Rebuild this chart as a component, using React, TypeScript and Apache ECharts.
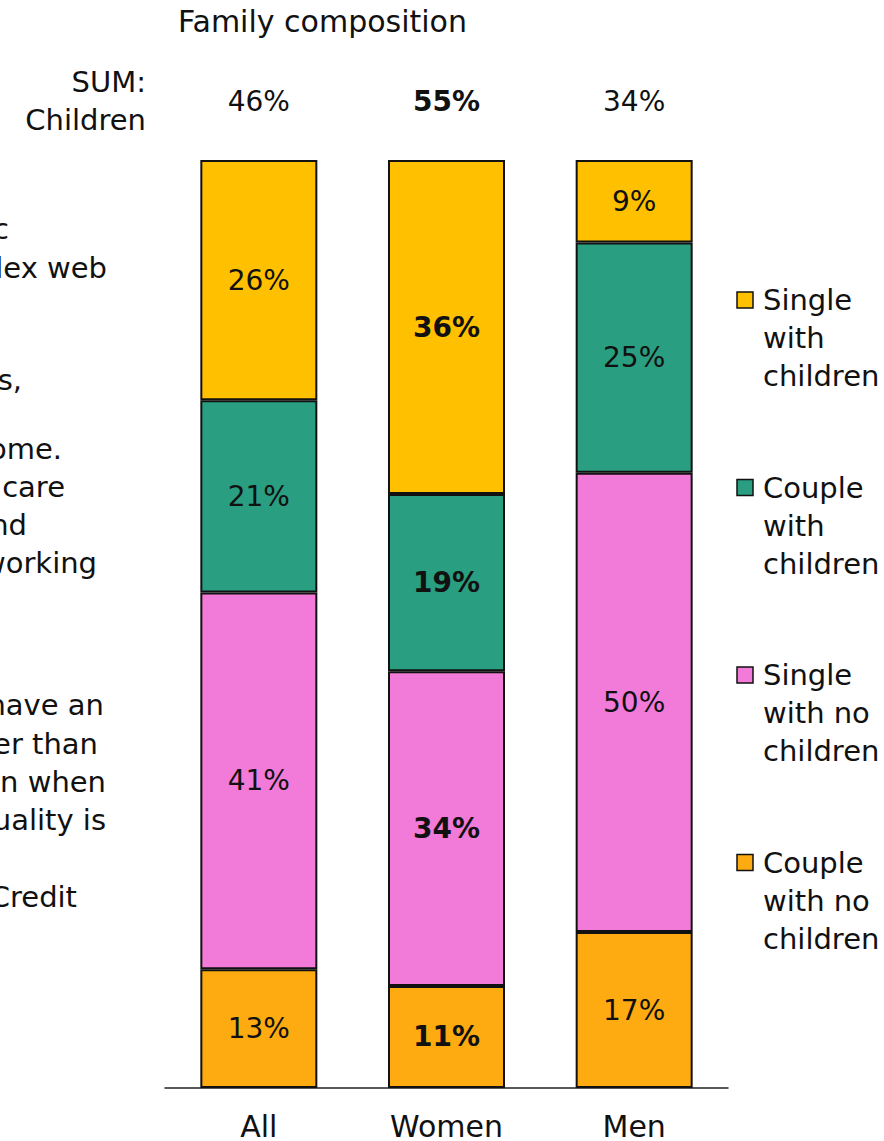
import React, { useEffect, useRef } from "react";
import * as echarts from "echarts";

const categories = ["All", "Women", "Men"];
const sumChildren = [46, 55, 34];
const coupleNoChildren = [12.8, 11.0, 16.8];
const singleNoChildren = [40.6, 33.9, 49.5];
const coupleWithChildren = [20.7, 19.1, 24.8];
const singleWithChildren = [25.9, 36.0, 8.9];
const boldCategory = "Women";

const seriesNames = [
  "Couple with no children",
  "Single with no children",
  "Couple with children",
  "Single with children",
];
const seriesColors = ["#FDAB10", "#F27AD9", "#2A9E80", "#FFC000"];
const legendLines = [
  ["Single", "with", "children"],
  ["Couple", "with", "children"],
  ["Single", "with no", "children"],
  ["Couple", "with no", "children"],
];
const legendColors = ["#FFC000", "#2A9E80", "#F27AD9", "#FDAB10"];

const clippedLines = [
  { t: "c", x: 9, y: 229 },
  { t: "lex web", x: 107, y: 268 },
  { t: "s,", x: 22, y: 380 },
  { t: "ome.", x: 62, y: 449 },
  { t: "care", x: 65, y: 487 },
  { t: "nd", x: 27, y: 525 },
  { t: "working", x: 97, y: 563 },
  { t: "have an", x: 104, y: 705 },
  { t: "er than", x: 98, y: 744 },
  { t: "n when", x: 106, y: 782 },
  { t: "uality is", x: 106, y: 820 },
  { t: "Credit", x: 77, y: 897 },
];

const FONT = "'DejaVu Sans', 'Noto Sans', sans-serif";
const FS = 29;
const FN = 28;

export default function App() {
  const ref = useRef<HTMLDivElement>(null);
  useEffect(() => {
    document.body.style.margin = "0";
    if (!ref.current) return;
    const chart = echarts.init(ref.current, undefined, { renderer: "svg" });
    const allData = [coupleNoChildren, singleNoChildren, coupleWithChildren, singleWithChildren];

    const gridLeft = 165;
    const gridRight = 728;
    const band = (gridRight - gridLeft) / categories.length;

    const graphic: any[] = [];
    graphic.push({
      type: "text",
      x: 178,
      y: 21,
      style: { text: "Family composition", font: `30px ${FONT}`, fill: "#111", verticalAlign: "middle" },
    });
    graphic.push({
      type: "text",
      x: 146,
      y: 101,
      style: {
        text: "SUM:\nChildren",
        font: `${FS}px ${FONT}`,
        fill: "#111",
        align: "right",
        verticalAlign: "middle",
        lineHeight: 38,
      },
    });
    categories.forEach((c, i) => {
      graphic.push({
        type: "text",
        x: gridLeft + band * (i + 0.5),
        y: 101,
        style: {
          text: sumChildren[i] + "%",
          font: `${c === boldCategory ? "bold " : ""}${FN}px ${FONT}`,
          fill: "#111",
          align: "center",
          verticalAlign: "middle",
        },
      });
    });
    clippedLines.forEach((l) => {
      graphic.push({
        type: "text",
        x: l.x,
        y: l.y,
        style: { text: l.t, font: `${FS}px ${FONT}`, fill: "#111", align: "right", verticalAlign: "middle" },
      });
    });
    legendLines.forEach((lines, i) => {
      const y0 = 300 + i * 187.5;
      graphic.push({
        type: "rect",
        shape: { x: 737, y: y0 - 8, width: 16, height: 16 },
        style: { fill: legendColors[i], stroke: "#111", lineWidth: 1.5 },
      });
      graphic.push({
        type: "text",
        x: 763,
        y: y0 - 19,
        style: {
          text: lines.join("\n"),
          font: `${FS}px ${FONT}`,
          fill: "#111",
          align: "left",
          verticalAlign: "top",
          lineHeight: 38,
        },
      });
    });

    chart.setOption({
      animation: false,
      grid: { left: gridLeft, right: 884 - gridRight, top: 160, bottom: 1141 - 1088, containLabel: false },
      xAxis: {
        type: "category",
        data: categories,
        axisLine: { lineStyle: { color: "#222", width: 1.5 } },
        axisTick: { show: false },
        axisLabel: { fontSize: 30, fontFamily: FONT, color: "#111", margin: 23 },
      },
      yAxis: { type: "value", min: 0, max: 100, show: false, splitLine: { show: false } },
      series: seriesNames.map((name, si) => ({
        name,
        type: "bar",
        stack: "total",
        barWidth: 117,
        itemStyle: { color: seriesColors[si], borderColor: "#111", borderWidth: 2 },
        label: {
          show: true,
          position: "inside",
          fontSize: FN,
          fontFamily: FONT,
          color: "#111",
          formatter: (p: any) => Math.round(p.value) + "%",
        },
        data: allData[si].map((v, i) => ({
          value: v,
          label: { fontWeight: categories[i] === boldCategory ? "bold" : "normal" },
        })),
      })),
      graphic,
    });
    return () => chart.dispose();
  }, []);
  return <div ref={ref} style={{ width: 884, height: 1141 }} />;
}
